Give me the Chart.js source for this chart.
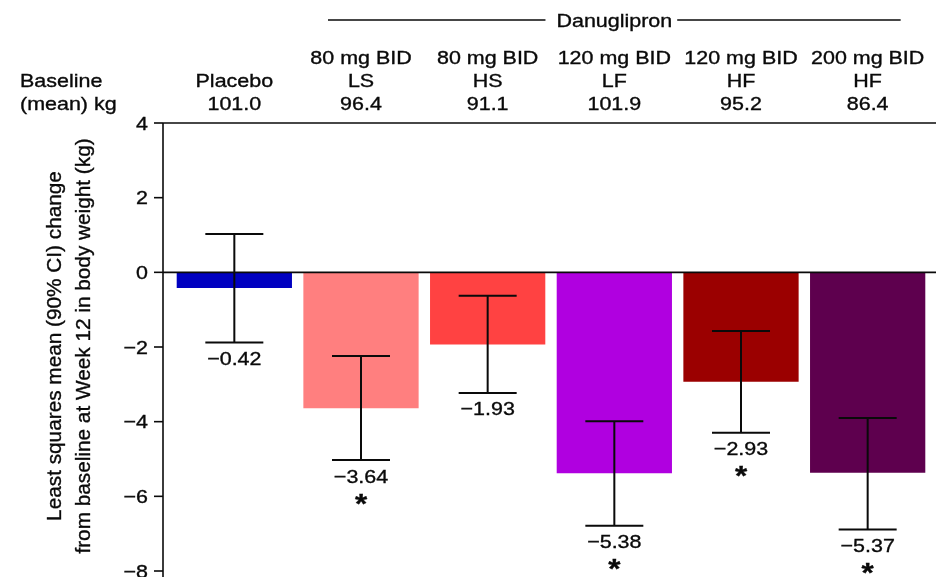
<!DOCTYPE html>
<html lang="en">
<head>
  <meta charset="UTF-8" />
  <title>Danuglipron - change in body weight at week 12</title>
  <style>
    html, body { margin: 0; padding: 0; background: #fff; }
    #wrap { width: 936px; height: 577px; position: relative; }
  </style>
</head>
<body>
  <div id="wrap"><canvas id="chart"></canvas></div>

  <script src="https://cdn.jsdelivr.net/npm/chart.js"></script>
  <script>
    // header rows above each bar
    const doseLabels = ['', '80 mg BID', '80 mg BID', '120 mg BID', '120 mg BID', '200 mg BID'];
    const armLabels = ['Placebo', 'LS', 'HS', 'LF', 'HF', 'HF'];
    const baselineKg = ['101.0', '96.4', '91.1', '101.9', '95.2', '86.4'];

    // LS mean change (kg) and 90% CI
    const lsMean = [-0.42, -3.64, -1.93, -5.38, -2.93, -5.37];
    const ciLow = [-1.88, -5.03, -3.23, -6.79, -4.30, -6.89];
    const ciHigh = [1.03, -2.24, -0.63, -3.99, -1.57, -3.90];
    const significant = [false, true, false, true, true, true];

    const barColors = ['#0000c0', '#ff7f7f', '#ff4242', '#b000e0', '#9b0000', '#5e004e'];

    const yMin = -8, yMax = 4, yStep = 2;

    const FONT = '"Liberation Sans", Arial, Helvetica, sans-serif';
    const FS = 18.5;   // font size
    const SX = 1.16;   // horizontal stretch of the source text

    function txt(ctx, s, x, y, align) {
      ctx.save();
      ctx.translate(x, y);
      ctx.scale(SX, 1);
      ctx.textAlign = align || 'center';
      ctx.textBaseline = 'alphabetic';
      ctx.fillText(s, 0, 0);
      ctx.lineWidth = 0.35;
      ctx.strokeText(s, 0, 0);
      ctx.restore();
    }

    function fmt(v) {
      return v < 0 ? '\u2212' + Math.abs(v).toFixed(2) : v.toFixed(2);
    }

    const overlay = {
      id: 'overlay',
      afterDraw(chart) {
        const ctx = chart.ctx;
        const ys = chart.scales.y;
        const area = chart.chartArea;
        const bars = chart.getDatasetMeta(0).data;
        const axisX = area.left - 8;
        const rightX = chart.width;

        ctx.save();
        ctx.fillStyle = '#0a0a0a';
        ctx.strokeStyle = '#0a0a0a';
        ctx.font = FS + 'px ' + FONT;

        // y axis line, ticks, labels
        ctx.lineWidth = 1.6;
        ctx.beginPath();
        ctx.moveTo(axisX, area.top);
        ctx.lineTo(axisX, chart.height);
        ctx.stroke();
        ys.ticks.forEach(t => {
          const py = ys.getPixelForValue(t.value);
          ctx.lineWidth = 1.6;
          ctx.beginPath();
          ctx.moveTo(axisX - 9, py);
          ctx.lineTo(axisX, py);
          ctx.stroke();
          const lab = t.value < 0 ? '\u2212' + Math.abs(t.value) : String(t.value);
          txt(ctx, lab, axisX - 15, py + 6.5, 'right');
        });

        // top frame line and zero line
        ctx.lineWidth = 1.6;
        [yMax, 0].forEach(v => {
          const py = ys.getPixelForValue(v);
          ctx.beginPath();
          ctx.moveTo(axisX, py);
          ctx.lineTo(rightX, py);
          ctx.stroke();
        });

        // error bars and value labels
        bars.forEach((b, i) => {
          const cx = b.x;
          const hi = ys.getPixelForValue(ciHigh[i]);
          const lo = ys.getPixelForValue(ciLow[i]);
          ctx.lineWidth = 2;
          ctx.beginPath();
          ctx.moveTo(cx, hi); ctx.lineTo(cx, lo);
          ctx.moveTo(cx - 29, hi); ctx.lineTo(cx + 29, hi);
          ctx.moveTo(cx - 29, lo); ctx.lineTo(cx + 29, lo);
          ctx.stroke();
          ctx.font = FS + 'px ' + FONT;
          txt(ctx, fmt(lsMean[i]), cx, lo + 22.5);
          if (significant[i]) {
            ctx.font = 'bold 27px ' + FONT;
            txt(ctx, '*', cx, lo + 37 + 15.5);
          }
        });

        // header
        ctx.font = FS + 'px ' + FONT;
        txt(ctx, 'Baseline', 20, 87, 'left');
        txt(ctx, '(mean) kg', 20, 110, 'left');
        bars.forEach((b, i) => {
          if (doseLabels[i]) txt(ctx, doseLabels[i], b.x, 64);
          txt(ctx, armLabels[i], b.x, 87);
          txt(ctx, baselineKg[i], b.x, 110);
        });

        // Danuglipron bracket
        const bx0 = bars[1].x - 33, bx1 = bars[5].x + 33;
        const mid = (bx0 + bx1) / 2;
        const tw = ctx.measureText('Danuglipron').width * SX;
        txt(ctx, 'Danuglipron', mid, 27);
        ctx.lineWidth = 1.6;
        ctx.beginPath();
        ctx.moveTo(bx0, 20); ctx.lineTo(mid - tw / 2 - 11, 20);
        ctx.moveTo(mid + tw / 2 + 5, 20); ctx.lineTo(bx1, 20);
        ctx.stroke();

        // y axis title (rotated, two lines)
        ctx.font = '19.6px ' + FONT;
        const cy = 346;
        [['Least squares mean (90% CI) change', 61], ['from baseline at Week 12 in body weight (kg)', 90]].forEach(([s, px]) => {
          ctx.save();
          ctx.translate(px, cy);
          ctx.rotate(-Math.PI / 2);
          ctx.scale(1.06, 1);
          ctx.textAlign = 'center';
          ctx.textBaseline = 'alphabetic';
          ctx.fillText(s, 0, 0);
          ctx.lineWidth = 0.35;
          ctx.strokeText(s, 0, 0);
          ctx.restore();
        });
        ctx.restore();
      }
    };

    const chart = new Chart(document.getElementById('chart'), {
      type: 'bar',
      data: {
        labels: armLabels,
        datasets: [{
          data: lsMean,
          backgroundColor: barColors,
          borderWidth: 0,
          barPercentage: 0.91,
          categoryPercentage: 1
        }]
      },
      options: {
        responsive: true,
        maintainAspectRatio: false,
        animation: false,
        layout: { padding: { top: 123, right: 5, bottom: 6, left: 0 } },
        plugins: { legend: { display: false }, tooltip: { enabled: false } },
        scales: {
          x: { display: false },
          y: {
            min: yMin,
            max: yMax,
            ticks: { display: false, stepSize: yStep },
            grid: { display: false },
            border: { display: false },
            afterFit: s => { s.width = 171; }
          }
        }
      },
      plugins: [overlay]
    });
  </script>
</body>
</html>
